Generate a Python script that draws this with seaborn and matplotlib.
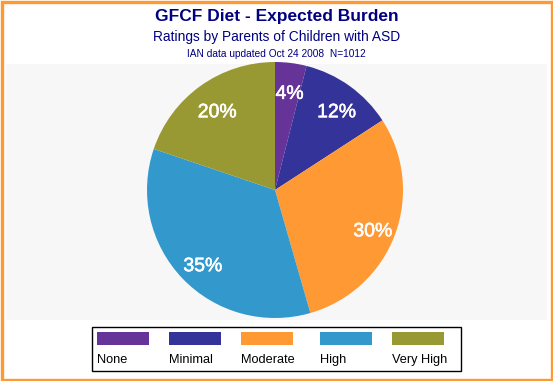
import matplotlib
matplotlib.use('Agg')
import matplotlib.pyplot as plt
import matplotlib.patheffects as pe
from matplotlib.patches import Rectangle
from matplotlib.transforms import offset_copy
import seaborn as sns

# Data
categories = ["None", "Minimal", "Moderate", "High", "Very High"]
percents = [4, 12, 30, 35, 20]
colors = ["#663399", "#333399", "#FF9933", "#3399CC", "#999933"]

sns.set_style("white")
plt.rcParams['font.family'] = ['Liberation Sans', 'DejaVu Sans']

W, H = 553, 381
fig = plt.figure(figsize=(W / 100, H / 100), dpi=100)
fig.patch.set_facecolor('white')

# orange frame
fig.patches.append(Rectangle((1.5 / W, 1.5 / H), 1 - 3 / W, 1 - 3 / H, transform=fig.transFigure,
                             fill=False, edgecolor='#FF9933', linewidth=2.4))

# titles
navy = '#000080'
fig.text(0.5, 1 - 16 / H, "GFCF Diet - Expected Burden", ha='center', va='center',
         fontsize=12.5, fontweight='bold', color=navy)
fig.text(0.5, 1 - 37 / H, "Ratings by Parents of Children with ASD", ha='center', va='center',
         fontsize=9.9, color=navy)
fig.text(0.5, 1 - 54 / H, "IAN data updated Oct 24 2008  N=1012", ha='center', va='center',
         fontsize=7.3, color=navy)

# plot area
left, top, right, bottom = 6, 64, 547, 320
ax = fig.add_axes([left / W, 1 - bottom / H, (right - left) / W, (bottom - top) / H])

R = 128.0
cx, cy = 275, 190
palette = sns.color_palette(colors)
wedges, texts = ax.pie(percents, colors=palette, startangle=90, counterclock=False,
                       radius=1, labels=[f"{p}%" for p in percents], labeldistance=0.8,
                       textprops=dict(color='white', fontsize=14,
                                      ha='center', va='center'),
                       wedgeprops=dict(linewidth=0), frame=True)
for t in texts:
    t.set_transform(offset_copy(ax.transData, fig=fig, x=2, y=-6, units='dots'))
    t.set_path_effects([pe.withStroke(linewidth=0.4, foreground='white')])
ax.set_facecolor('#F7F7F7')
for s in ax.spines.values():
    s.set_visible(False)
ax.set_xlim(-(cx - left) / R, (right - cx) / R)
ax.set_ylim(-(bottom - cy) / R, (cy - top) / R)
ax.set_aspect('auto')
ax.set_xticks([])
ax.set_yticks([])

# legend box
fig.patches.append(Rectangle((92 / W, 1 - 371 / H), (461 - 92) / W, (371 - 327) / H,
                             transform=fig.transFigure, fill=False, edgecolor='black', linewidth=1))
leg_x = [97, 169, 241, 320, 392]
for x, c, lab in zip(leg_x, palette, categories):
    fig.patches.append(Rectangle((x / W, 1 - 345 / H), 52 / W, 13 / H, transform=fig.transFigure,
                                 facecolor=c, edgecolor='none'))
    fig.text(x / W, 1 - 360 / H, lab, ha='left', va='center', fontsize=9.2, color='black')

fig.savefig('out.png', dpi=100)
